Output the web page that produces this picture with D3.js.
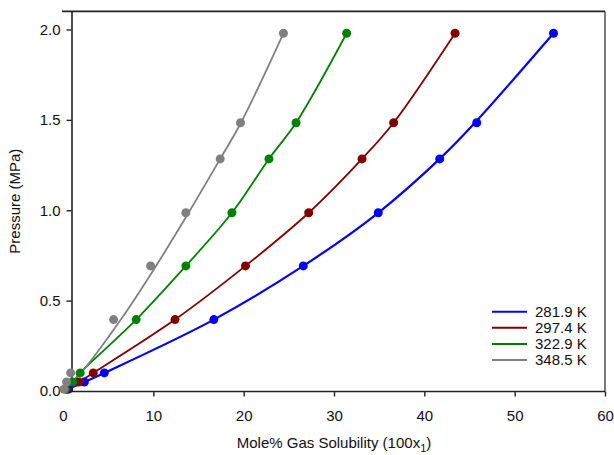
<!DOCTYPE html>
<html>
<head>
<meta charset="utf-8">
<script src="https://d3js.org/d3.v7.min.js"></script>
<style>
  body { margin: 0; background: #fff; }
  text { font-family: "Liberation Sans", Arial, sans-serif; fill: #111; }
</style>
</head>
<body>
<script>
// pressures (MPa) of the measured points, shared by all isotherms
var pressure = [0.01, 0.05, 0.10, 0.395, 0.692, 0.986, 1.284, 1.484, 1.979];

// measured solubility (mole %)
var x281 = [0.6, 2.36, 4.57, 16.7, 26.6, 34.9, 41.7, 45.8, 54.3];
var x297 = [0.4, 1.74, 3.35, 12.4, 20.2, 27.2, 33.1, 36.6, 43.4];
var x322 = [0.25, 1.07, 1.9, 8.1, 13.6, 18.7, 22.8, 25.8, 31.4];
var x348 = [0.1, 0.4, 0.85, 5.6, 9.7, 13.6, 17.4, 19.65, 24.4];

// model curves
var fitP = [0, 0.05, 0.10, 0.395, 0.692, 0.986, 1.284, 1.484, 1.979];
var fit281 = [0, 2.36, 4.57, 16.7, 26.6, 34.9, 41.7, 45.6, 54.3];
var fit297 = [0, 1.74, 3.35, 12.4, 20.2, 27.2, 33.1, 36.6, 43.4];
var fit322 = [0, 1.07, 1.9, 8.1, 13.6, 18.7, 22.8, 25.8, 31.4];
var fit348 = [0, 1.0, 2.0, 6.4, 10.3, 13.9, 17.4, 19.7, 24.4];

var labels = ["281.9 K", "297.4 K", "322.9 K", "348.5 K"];
var colors = ["#0000ff", "#800000", "#008000", "#808080"];
var xTicks = [0, 10, 20, 30, 40, 50, 60];
var yTicks = [0, 0.5, 1.0, 1.5, 2.0];

var series = [
  { label: labels[0], color: colors[0], pts: x281, fit: fit281 },
  { label: labels[1], color: colors[1], pts: x297, fit: fit297 },
  { label: labels[2], color: colors[2], pts: x322, fit: fit322 },
  { label: labels[3], color: colors[3], pts: x348, fit: fit348 }
];

var width = 614, height = 455;

var x = d3.scaleLinear().domain([0, 60]).range([63, 605]);
var y = d3.scaleLinear().domain([0, 2.1]).range([391, 11.4]);
var axisX = 71.5;

var svg = d3.select("body").append("svg")
  .attr("width", width)
  .attr("height", height);

// frame: top and right
svg.append("line")
  .attr("x1", 62).attr("x2", x(60)).attr("y1", y(2.1)).attr("y2", y(2.1))
  .style("stroke", "#222").style("stroke-width", 1.6);
svg.append("line")
  .attr("x1", x(60)).attr("x2", x(60)).attr("y1", y(2.1)).attr("y2", y(0) + 0.5)
  .style("stroke", "#222").style("stroke-width", 1.2);

// y axis
var gy = svg.append("g")
  .attr("transform", "translate(" + axisX + ",0)")
  .call(d3.axisLeft(y).tickValues(yTicks).tickFormat(d3.format(".1f"))
    .tickSize(5).tickSizeOuter(0).tickPadding(6));
gy.select(".domain").style("stroke", "#222").style("stroke-width", 1.6);
gy.selectAll(".tick line").style("stroke", "#222").style("stroke-width", 1.4);
gy.selectAll(".tick text").style("font-size", "15px").style("font-family", "Liberation Sans, Arial, sans-serif").attr("fill", "#111");

// x axis
var gx = svg.append("g")
  .attr("transform", "translate(0," + (y(0) + 0.5) + ")")
  .call(d3.axisBottom(x).tickValues(xTicks).tickFormat(d3.format("d"))
    .tickSize(5).tickSizeOuter(0).tickPadding(14));
gx.select(".domain").remove();
gx.selectAll(".tick line").style("stroke", "#222").style("stroke-width", 1.4)
  .filter(function (d) { return d === 0; }).remove();
gx.selectAll(".tick text").style("font-size", "15px").style("font-family", "Liberation Sans, Arial, sans-serif").attr("fill", "#111");
svg.append("line")
  .attr("x1", axisX).attr("x2", x(60)).attr("y1", y(0) + 0.5).attr("y2", y(0) + 0.5)
  .style("stroke", "#222").style("stroke-width", 1.6);

// axis titles
svg.append("text")
  .attr("transform", "translate(20," + ((y(0) + y(2.1)) / 2) + ") rotate(-90)")
  .attr("text-anchor", "middle")
  .style("font-size", "15px")
  .text("Pressure (MPa)");

var xt = svg.append("text")
  .attr("x", (x(0) + x(60)) / 2)
  .attr("y", 448)
  .attr("text-anchor", "middle")
  .style("font-size", "15px");
xt.append("tspan").text("Mole% Gas Solubility (100x");
xt.append("tspan").attr("dy", 4).style("font-size", "11px").text("1");
xt.append("tspan").attr("dy", -4).text(")");

// curves
var line = d3.line()
  .x(function (d) { return x(d[0]); })
  .y(function (d) { return y(d[1]); })
  .curve(d3.curveCatmullRom.alpha(0.5));

series.forEach(function (s) {
  var pts = s.fit.map(function (v, i) { return [v, fitP[i]]; });
  svg.append("path")
    .datum(pts)
    .attr("d", line)
    .style("fill", "none")
    .style("stroke", s.color)
    .style("stroke-width", s.color === "#0000ff" ? 2.2 : 1.8);
});

series.forEach(function (s) {
  svg.selectAll(null)
    .data(s.pts.map(function (v, i) { return [v, pressure[i]]; }))
    .enter().append("circle")
    .attr("cx", function (d) { return x(d[0]); })
    .attr("cy", function (d) { return y(d[1]); })
    .attr("r", 4.5)
    .style("fill", s.color);
});

// legend
var legend = svg.append("g");
series.forEach(function (s, i) {
  var ly = 311.7 + i * 16.1;
  legend.append("line")
    .attr("x1", 492).attr("x2", 527).attr("y1", ly).attr("y2", ly)
    .style("stroke", s.color).style("stroke-width", 2);
  legend.append("text")
    .attr("x", 535).attr("y", ly).attr("dy", "0.35em")
    .style("font-size", "15px")
    .text(s.label);
});
</script>
</body>
</html>
